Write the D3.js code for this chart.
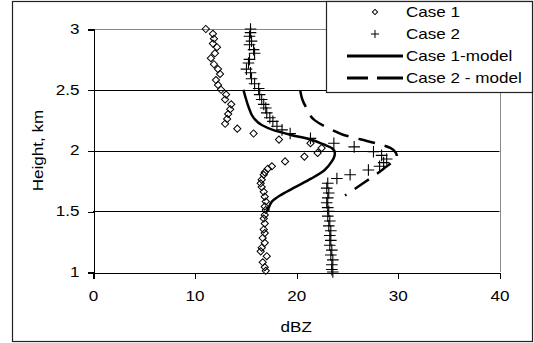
<!DOCTYPE html>
<html>
<head>
<meta charset="utf-8">
<script src="https://cdn.jsdelivr.net/npm/d3@7"></script>
<style>
  body { margin: 0; background: #fff; }
  text { font-family: Arial, "Liberation Sans", sans-serif; font-size: 14px; fill: #000; }
  /* the original text is drawn wider than normal */
  .wide { transform-box: fill-box; transform: scaleX(1.22); }
  .wide-c { transform-origin: center; }
  .wide-r { transform-origin: right center; }
  .wide-l { transform-origin: left center; }
</style>
</head>
<body>
<svg id="chart" width="534" height="343"></svg>
<script>
// case 1 (diamonds) : height km / dBZ
var case1Height = [3.00, 2.96, 2.92, 2.88, 2.85, 2.80, 2.76, 2.71, 2.67, 2.63, 2.58, 2.54, 2.50, 2.46, 2.42, 2.38, 2.34, 2.30, 2.26, 2.22, 2.18, 2.14, 2.09, 2.06, 2.02, 1.98, 1.95, 1.91, 1.87, 1.85, 1.82, 1.80, 1.76, 1.73, 1.70, 1.66, 1.62, 1.58, 1.54, 1.51, 1.47, 1.44, 1.40, 1.35, 1.32, 1.28, 1.24, 1.20, 1.17, 1.13, 1.08, 1.04, 1.01];
var case1DBZ = [11.1, 11.8, 11.9, 11.8, 12.2, 12.0, 11.6, 11.9, 12.3, 12.5, 12.1, 12.3, 12.6, 13.1, 13.0, 13.6, 13.5, 13.3, 13.2, 13.0, 14.2, 15.8, 18.3, 21.4, 22.5, 22.1, 20.8, 18.9, 17.6, 17.2, 16.9, 16.8, 16.6, 16.5, 16.6, 16.8, 16.9, 17.0, 16.9, 17.0, 16.9, 16.8, 16.9, 16.8, 16.9, 16.7, 16.9, 16.6, 16.5, 17.1, 16.7, 16.9, 17.0];

// case 2 (plus)
var case2Height = [3.00, 2.97, 2.94, 2.90, 2.87, 2.83, 2.80, 2.75, 2.72, 2.67, 2.64, 2.59, 2.55, 2.51, 2.46, 2.42, 2.38, 2.35, 2.31, 2.27, 2.24, 2.20, 2.17, 2.14, 2.10, 2.06, 2.03, 1.99, 1.96, 1.93, 1.90, 1.87, 1.84, 1.80, 1.77, 1.73, 1.69, 1.65, 1.61, 1.57, 1.53, 1.50, 1.46, 1.42, 1.38, 1.34, 1.30, 1.26, 1.22, 1.18, 1.14, 1.10, 1.06, 1.02, 1.00];
var case2DBZ = [15.5, 15.5, 15.4, 15.6, 15.4, 15.8, 15.9, 15.4, 15.3, 15.1, 15.5, 15.6, 15.9, 16.3, 16.4, 16.6, 16.8, 17.0, 17.1, 17.4, 17.7, 18.1, 18.6, 19.4, 21.4, 23.7, 25.7, 27.6, 28.4, 28.9, 28.6, 28.2, 27.1, 25.3, 24.0, 23.1, 23.0, 23.2, 23.1, 23.0, 23.1, 23.2, 23.1, 23.3, 23.2, 23.4, 23.3, 23.4, 23.3, 23.5, 23.4, 23.6, 23.5, 23.5, 23.6];

// model curves
var model1Height = [2.50, 2.44, 2.36, 2.27, 2.21, 2.17, 2.13, 2.09, 2.05, 2.02, 1.98, 1.94, 1.91, 1.84, 1.77, 1.69, 1.63, 1.58, 1.53, 1.50];
var model1DBZ = [14.8, 15.0, 15.3, 15.8, 16.6, 17.7, 19.4, 21.4, 22.7, 23.5, 23.8, 23.7, 23.5, 22.8, 21.5, 19.7, 18.4, 17.6, 17.3, 17.1];
var model2Height = [2.49, 2.42, 2.35, 2.25, 2.17, 2.13, 2.09, 2.06, 2.02, 1.98, 1.95, 1.91, 1.85, 1.80, 1.72, 1.63];
var model2DBZ = [20.4, 20.6, 21.0, 21.8, 23.5, 24.6, 26.4, 27.8, 29.3, 29.8, 29.9, 29.5, 28.6, 27.8, 26.4, 24.8];

var xTicks = [0, 10, 20, 30, 40];
var yTicks = [1, 1.5, 2, 2.5, 3];
var legendLabels = ["Case 1", "Case 2", "Case 1-model", "Case 2 - model"];

var svg = d3.select("#chart");

var x = d3.scaleLinear().domain([0, 40]).range([93, 499.5]);
var y = d3.scaleLinear().domain([1, 3]).range([272, 29]);

function pts(hs, vs) {
    return hs.map((h, i) => ({h: h, v: vs[i]}));
}

// outer frame
svg.append("rect")
    .attr("x", 12.5).attr("y", 1.5)
    .attr("width", 520).attr("height", 340)
    .attr("fill", "#fff").attr("stroke", "#222").attr("stroke-width", 1.2);

// gridlines
svg.append("g")
    .selectAll("line")
    .data(yTicks.filter(d => d > 1 && d < 3))
    .enter()
    .append("line")
    .attr("x1", x(0)).attr("x2", x(40))
    .attr("y1", d => Math.round(y(d)) + 0.5).attr("y2", d => Math.round(y(d)) + 0.5)
    .attr("stroke", "#000");

// plot top/right border (grey)
svg.append("path")
    .attr("d", "M" + x(0) + "," + (Math.round(y(3)) + 0.5) + "H" + (Math.round(x(40)) + 0.5) + "V" + y(1))
    .attr("fill", "none").attr("stroke", "#888");

// axes
var xAxis = d3.axisBottom(x).tickValues(xTicks).tickSize(6).tickPadding(13).tickFormat(d => d);
var gx = svg.append("g")
    .attr("transform", "translate(0," + (Math.round(y(1)) + 0.5) + ")")
    .call(xAxis);
var yAxis = d3.axisLeft(y).tickValues(yTicks).tickSize(6).tickPadding(8).tickFormat(d => d);
var gy = svg.append("g")
    .attr("transform", "translate(" + (Math.round(x(0)) + 0.5) + ",0)")
    .call(yAxis);
[gx, gy].forEach(g => {
    g.selectAll("path, line").attr("stroke", "#000").attr("shape-rendering", "crispEdges");
    g.selectAll("text").style("font-family", "Arial, 'Liberation Sans', sans-serif").style("font-size", "14px").attr("fill", "#000");
});
gx.selectAll(".tick line").attr("x1", 0.5).attr("x2", 0.5);
gy.selectAll(".tick line").attr("y1", 0.5).attr("y2", 0.5);
gx.selectAll("text").attr("class", "wide wide-c");
gy.selectAll("text").attr("class", "wide wide-r");

svg.append("text")
    .attr("class", "wide wide-c")
    .attr("x", (x(0) + x(40)) / 2).attr("y", 332)
    .attr("text-anchor", "middle")
    .text("dBZ");
svg.append("text")
    .attr("transform", "translate(43," + y(2) + ") rotate(-90) scale(1.22,1)")
    .attr("text-anchor", "middle")
    .text("Height, km");

// model lines
var line = d3.line().x(d => x(d.v)).y(d => y(d.h)).curve(d3.curveMonotoneY);

svg.append("path")
    .datum(pts(model1Height, model1DBZ))
    .attr("d", line)
    .attr("fill", "none").attr("stroke", "#000").attr("stroke-width", 2.5);

svg.append("path")
    .datum(pts(model2Height, model2DBZ))
    .attr("d", line)
    .attr("fill", "none").attr("stroke", "#000").attr("stroke-width", 2.5)
    .attr("stroke-dasharray", "17,10");

// markers
var diamond = d3.symbol().type(d3.symbolSquare).size(26);
svg.append("g")
    .selectAll("path")
    .data(pts(case1Height, case1DBZ))
    .enter()
    .append("path")
    .attr("d", diamond)
    .attr("transform", d => "translate(" + x(d.v) + "," + y(d.h) + ") rotate(45)")
    .attr("fill", "none").attr("stroke", "#000").attr("stroke-width", 1);

var plus = d3.symbol().type(d3.symbolPlus || d3.symbolCross).size(46);
svg.append("g")
    .selectAll("path")
    .data(pts(case2Height, case2DBZ))
    .enter()
    .append("path")
    .attr("d", plus)
    .attr("transform", d => "translate(" + x(d.v) + "," + y(d.h) + ")")
    .attr("fill", "none").attr("stroke", "#000").attr("stroke-width", 1.1);

// legend
var lg = svg.append("g");
lg.append("rect")
    .attr("x", 326.5).attr("y", 1.5)
    .attr("width", 206).attr("height", 91)
    .attr("fill", "#fff").attr("stroke", "#222").attr("stroke-width", 1.2);

var rowY = d3.scalePoint().domain(legendLabels).range([12, 78]);
lg.selectAll("text")
    .data(legendLabels)
    .enter()
    .append("text")
    .attr("class", "wide wide-l")
    .attr("x", 406).attr("y", d => rowY(d) + 5)
    .text(d => d);

lg.append("path")
    .attr("d", d3.symbol().type(d3.symbolSquare).size(14))
    .attr("transform", "translate(375," + rowY(legendLabels[0]) + ") rotate(45)")
    .attr("fill", "none").attr("stroke", "#000");
lg.append("path")
    .attr("d", d3.symbol().type(d3.symbolPlus || d3.symbolCross).size(24))
    .attr("transform", "translate(375," + rowY(legendLabels[1]) + ")")
    .attr("fill", "none").attr("stroke", "#000");
lg.append("line")
    .attr("x1", 347).attr("x2", 403)
    .attr("y1", rowY(legendLabels[2])).attr("y2", rowY(legendLabels[2]))
    .attr("stroke", "#000").attr("stroke-width", 3);
lg.append("line")
    .attr("x1", 347).attr("x2", 403)
    .attr("y1", rowY(legendLabels[3])).attr("y2", rowY(legendLabels[3]))
    .attr("stroke", "#000").attr("stroke-width", 3)
    .attr("stroke-dasharray", "21,9,26");
</script>
</body>
</html>
